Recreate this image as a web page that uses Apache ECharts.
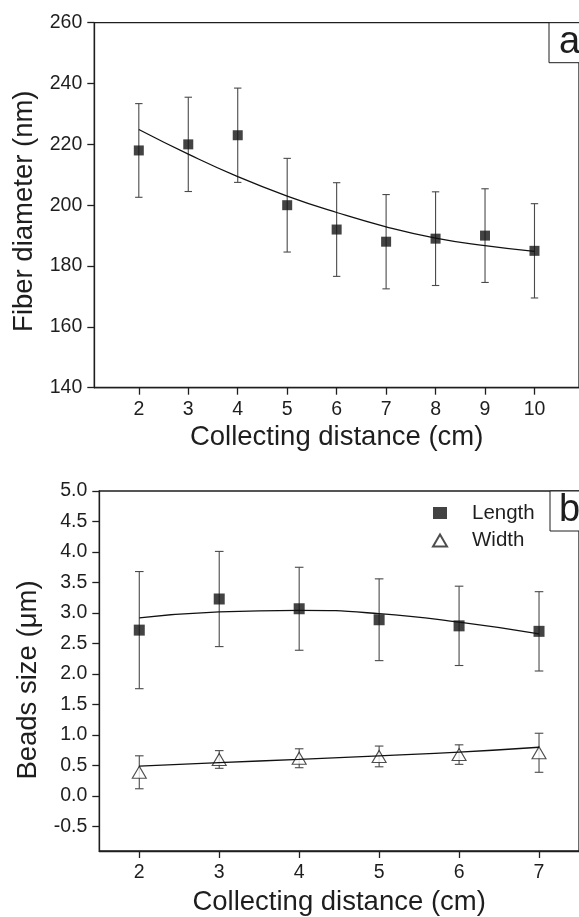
<!DOCTYPE html>
<html><head><meta charset="utf-8">
<script src="https://cdn.jsdelivr.net/npm/echarts@6/dist/echarts.min.js"></script>
<style>html,body{margin:0;padding:0;background:#fff}#c{width:579px;height:917px}</style>
</head><body><div id="c"></div>
<script>
// ---- Panel a data ----
const distA = [2, 3, 4, 5, 6, 7, 8, 9, 10];
const diameter = [218, 220, 223, 200, 192, 188, 189, 190, 185];
const diameterErr = [15.4, 15.5, 15.5, 15.4, 15.4, 15.5, 15.4, 15.4, 15.5];
const diameterFit = [224.9, 216.8, 209.4, 203.0, 197.6, 192.9, 189.2, 186.7, 184.8];
const xTicksA = [2, 3, 4, 5, 6, 7, 8, 9, 10];
const yTicksA = [140, 160, 180, 200, 220, 240, 260];

// ---- Panel b data ----
const distB = [2, 3, 4, 5, 6, 7];
const beadLength = [2.72, 3.23, 3.07, 2.89, 2.79, 2.70];
const beadLengthErr = [0.96, 0.78, 0.68, 0.67, 0.65, 0.65];
const beadLengthFit = [2.92, 3.02, 3.045, 2.99, 2.85, 2.66];
const beadWidth = [0.39, 0.60, 0.62, 0.65, 0.68, 0.71];
const beadWidthErr = [0.27, 0.145, 0.155, 0.17, 0.16, 0.32];
const beadWidthFit = [0.49, 0.55, 0.60, 0.66, 0.72, 0.80];
const xTicksB = [2, 3, 4, 5, 6, 7];
const yTicksB = [-0.5, 0, 0.5, 1.0, 1.5, 2.0, 2.5, 3.0, 3.5, 4.0, 4.5, 5.0];

const FONT = 'Liberation Sans, Arial, sans-serif';
const INK = '#1e1e1e';

const chart = echarts.init(document.getElementById('c'), null, {renderer: 'canvas'});

function errorSeries(xi, yi, xs, ys, errs, cap) {
  return {
    type: 'custom', xAxisIndex: xi, yAxisIndex: yi, z: 2, silent: true,
    encode: {x: 0, y: [1, 2]},
    data: xs.map((x, i) => [x, ys[i] - errs[i], ys[i] + errs[i]]),
    renderItem(params, api) {
      const lo = api.coord([api.value(0), api.value(1)]);
      const hi = api.coord([api.value(0), api.value(2)]);
      const st = {stroke: '#4a4a4a', lineWidth: 1.1};
      return {type: 'group', children: [
        {type: 'line', shape: {x1: lo[0], y1: lo[1], x2: hi[0], y2: hi[1]}, style: st},
        {type: 'line', shape: {x1: lo[0] - cap, y1: lo[1], x2: lo[0] + cap, y2: lo[1]}, style: st},
        {type: 'line', shape: {x1: hi[0] - cap, y1: hi[1], x2: hi[0] + cap, y2: hi[1]}, style: st}
      ]};
    }
  };
}

const axisLineStyle = {show: true, onZero: false, lineStyle: {color: INK, width: 1.3}};
const tickStyle = {show: true, length: 7, lineStyle: {color: INK, width: 1.3}};
const tickFont = {fontSize: 19.5, color: INK, fontFamily: FONT, margin: 12};
const titleFont = {fontSize: 27.5, color: INK, fontFamily: FONT};

const option = {
  animation: false,
  backgroundColor: '#fff',
  grid: [
    {left: 94.3, top: 22.7, right: -30, bottom: 529.3, show: true, borderColor: INK, borderWidth: 1.3},
    {left: 99.3, top: 491, right: -10.4, bottom: 64.7, show: true, borderColor: INK, borderWidth: 1.3}
  ],
  xAxis: [
    {type: 'value', gridIndex: 0, min: 1.1, max: 10.9,
     axisLine: axisLineStyle, splitLine: {show: false},
     axisTick: Object.assign({customValues: xTicksA}, tickStyle),
     axisLabel: Object.assign({customValues: xTicksA}, tickFont),
     name: 'Collecting distance (cm)', nameLocation: 'middle', nameGap: 36,
     nameTextStyle: titleFont},
    {type: 'value', gridIndex: 1, min: 1.5, max: 7.5,
     axisLine: axisLineStyle, splitLine: {show: false},
     axisTick: Object.assign({customValues: xTicksB}, tickStyle),
     axisLabel: Object.assign({customValues: xTicksB}, tickFont),
     name: 'Collecting distance (cm)', nameLocation: 'middle', nameGap: 37,
     nameTextStyle: titleFont}
  ],
  yAxis: [
    {type: 'value', gridIndex: 0, min: 140, max: 260,
     axisLine: axisLineStyle, splitLine: {show: false},
     axisTick: Object.assign({customValues: yTicksA}, tickStyle),
     axisLabel: Object.assign({customValues: yTicksA}, tickFont),
     name: 'Fiber diameter (nm)', nameLocation: 'middle', nameGap: 55,
     nameTextStyle: Object.assign({padding: [0, 0, 0, -12]}, titleFont)},
    {type: 'value', gridIndex: 1, min: -0.9, max: 5.0,
     axisLine: axisLineStyle, splitLine: {show: false},
     axisTick: Object.assign({customValues: yTicksB}, tickStyle),
     axisLabel: Object.assign({customValues: yTicksB, formatter: v => Number(v).toFixed(1)}, tickFont),
     name: 'Beads size (\u03bcm)', nameLocation: 'middle', nameGap: 52,
     nameTextStyle: Object.assign({padding: [0, 0, 0, -18]}, titleFont)}
  ],
  legend: {
    data: [{name: 'Length', icon: 'rect'}, {name: 'Width', icon: 'triangle'}],
    orient: 'vertical', left: 427, top: 497.5, itemWidth: 14, itemHeight: 12, itemGap: 6.5,
    selectedMode: false,
    textStyle: {fontSize: 20.5, color: INK, fontFamily: FONT, padding: [0, 0, 0, 20]}
  },
  graphic: [
    {type: 'rect', shape: {x: 549, y: 22.7, width: 80, height: 40}, style: {fill: '#fff', stroke: INK, lineWidth: 1}, z: 100},
    {type: 'text', x: 559, y: 42.5, style: {text: 'a', fontSize: 38, fontFamily: FONT, fill: INK, verticalAlign: 'middle'}, z: 101},
    {type: 'rect', shape: {x: 550, y: 491, width: 80, height: 40}, style: {fill: '#fff', stroke: INK, lineWidth: 1}, z: 100},
    {type: 'text', x: 559, y: 511, style: {text: 'b', fontSize: 38, fontFamily: FONT, fill: INK, verticalAlign: 'middle'}, z: 101}
  ],
  series: [
    errorSeries(0, 0, distA, diameter, diameterErr, 3.7),
    {type: 'scatter', name: 'Diameter', xAxisIndex: 0, yAxisIndex: 0, z: 3,
     symbol: 'rect', symbolSize: 10, itemStyle: {color: '#141414'},
     data: distA.map((x, i) => [x, diameter[i]])},
    {type: 'line', name: 'Diameter fit', xAxisIndex: 0, yAxisIndex: 0, z: 4, smooth: true,
     showSymbol: false, lineStyle: {color: '#111', width: 1.3},
     data: distA.map((x, i) => [x, diameterFit[i]])},

    errorSeries(1, 1, distB, beadLength, beadLengthErr, 4.3),
    errorSeries(1, 1, distB, beadWidth, beadWidthErr, 4.3),
    {type: 'scatter', name: 'Length', xAxisIndex: 1, yAxisIndex: 1, z: 3,
     symbol: 'rect', symbolSize: 11, itemStyle: {color: '#141414'},
     data: distB.map((x, i) => [x, beadLength[i]])},
    {type: 'scatter', name: 'Width', xAxisIndex: 1, yAxisIndex: 1, z: 3,
     symbol: 'triangle', symbolSize: [14, 12],
     itemStyle: {color: '#fff', borderColor: '#222', borderWidth: 1.1},
     data: distB.map((x, i) => [x, beadWidth[i]])},
    {type: 'line', name: 'Length fit', xAxisIndex: 1, yAxisIndex: 1, z: 4, smooth: 0.5,
     showSymbol: false, lineStyle: {color: '#111', width: 1.3},
     data: distB.map((x, i) => [x, beadLengthFit[i]])},
    {type: 'line', name: 'Width fit', xAxisIndex: 1, yAxisIndex: 1, z: 4, smooth: true,
     showSymbol: false, lineStyle: {color: '#111', width: 1.3},
     data: distB.map((x, i) => [x, beadWidthFit[i]])}
  ]
};
chart.setOption(option);
</script>
</body></html>
